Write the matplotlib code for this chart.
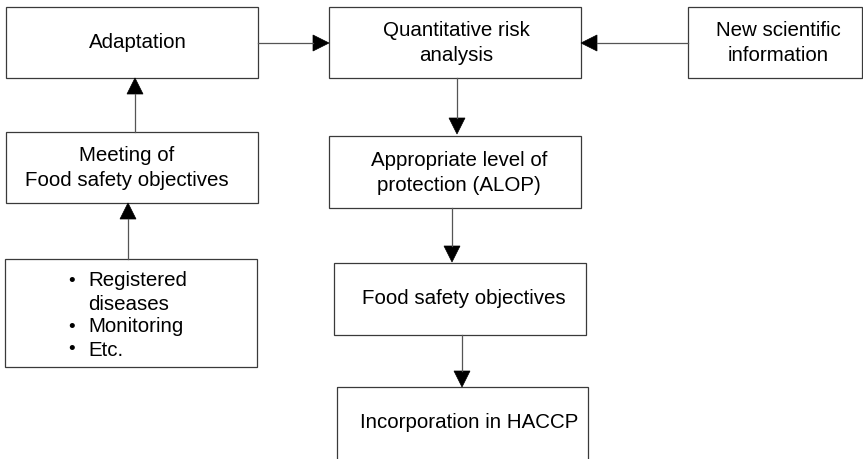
"""
Food safety flowchart: risk analysis -> ALOP -> FSO -> HACCP, with a
feedback loop through monitoring and adaptation.
"""

import matplotlib
matplotlib.use("Agg")
import matplotlib.pyplot as plt
from matplotlib.patches import Rectangle, Polygon

plt.rcParams['font.family'] = ['Liberation Sans', 'DejaVu Sans']

# --- content -------------------------------------------------------------
box_names = ["adapt", "qra", "newsci", "meeting", "alop", "reg", "fso", "haccp"]
box_labels = [
    "Adaptation",
    "Quantitative risk\nanalysis",
    "New scientific\ninformation",
    "Meeting of\nFood safety objectives",
    "Appropriate level of\nprotection (ALOP)",
    None,                       # bullet list, drawn separately
    "Food safety objectives",
    "Incorporation in HACCP",
]
bullet_items = [["Registered", "diseases"], ["Monitoring"], ["Etc."]]
edges = [("adapt", "qra"), ("newsci", "qra"), ("qra", "alop"),
         ("meeting", "adapt"), ("reg", "meeting"),
         ("alop", "fso"), ("fso", "haccp")]

# --- layout (pixel coords, y down) ---------------------------------------
W, H = 863, 459
BOX = {
    "adapt":   (6, 7, 258, 78),
    "qra":     (329, 7, 581, 78),
    "newsci":  (688, 7, 862, 78),
    "meeting": (6, 132, 258, 203),
    "alop":    (329, 136, 581, 208),
    "reg":     (5, 259, 257, 367),
    "fso":     (334, 263, 586, 335),
    "haccp":   (337, 387, 588, 470),
}
TEXT_POS = {
    "adapt": (138, 42), "qra": (456, 43), "newsci": (778, 43),
    "meeting": (127, 168), "alop": (459, 173),
    "fso": (464, 298), "haccp": (469, 423),
}
# arrow start/end points for each edge
ARROW = {
    ("adapt", "qra"):     ((258, 43), (329, 43)),
    ("newsci", "qra"):    ((688, 43), (581, 43)),
    ("qra", "alop"):      ((457, 78), (457, 134)),
    ("meeting", "adapt"): ((135, 132), (135, 78)),
    ("reg", "meeting"):   ((128, 259), (128, 203)),
    ("alop", "fso"):      ((452, 208), (452, 262)),
    ("fso", "haccp"):     ((462, 335), (462, 387)),
}
FS = 14.8
EDGE = "#3a3a3a"
HEAD_LEN, HEAD_HW = 16, 8

fig = plt.figure(figsize=(W / 100, H / 100), dpi=100)
ax = fig.add_axes([0, 0, 1, 1])
ax.set_xlim(0, W)
ax.set_ylim(H, 0)
ax.axis('off')

for name, label in zip(box_names, box_labels):
    x0, y0, x1, y1 = BOX[name]
    ax.add_patch(Rectangle((x0, y0), x1 - x0, y1 - y0, fill=False,
                           edgecolor=EDGE, linewidth=0.9))
    if label is not None:
        tx, ty = TEXT_POS[name]
        ax.text(tx, ty, label, ha='center', va='center', fontsize=FS,
                linespacing=1.36, multialignment='center')

# bullet list box, one text line at a time
y = 279
for item in bullet_items:
    ax.text(72, y, "\u2022", ha='center', va='center_baseline', fontsize=13.5)
    for line in item:
        ax.text(88, y, line, ha='left', va='center_baseline', fontsize=FS)
        y += 23

for edge in edges:
    (sx, sy), (ex, ey) = ARROW[edge]
    dx, dy = ex - sx, ey - sy
    L = (dx ** 2 + dy ** 2) ** 0.5
    ux, uy = dx / L, dy / L
    bx, by = ex - ux * HEAD_LEN, ey - uy * HEAD_LEN
    ax.plot([sx, bx], [sy, by], color="#555555", linewidth=0.9)
    px, py = -uy * HEAD_HW, ux * HEAD_HW
    ax.add_patch(Polygon([(ex, ey), (bx + px, by + py), (bx - px, by - py)],
                         closed=True, facecolor='black', edgecolor='black',
                         linewidth=0.5))

fig.savefig("out.png", dpi=100)
